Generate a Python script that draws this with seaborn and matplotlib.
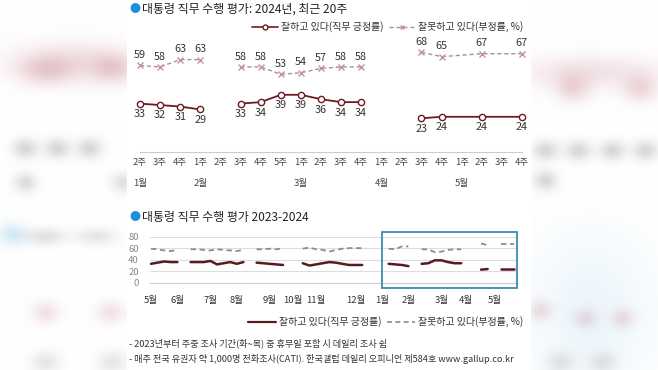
import numpy as np
import pandas as pd
import matplotlib
matplotlib.use('Agg')
import matplotlib.pyplot as plt
import seaborn as sns
from matplotlib.patches import Rectangle
from matplotlib.lines import Line2D

sns.set_theme(style='white')
plt.rcParams['font.family'] = ['Noto Sans CJK KR', 'DejaVu Sans']

# ---------------- data ----------------
week_labels = ['2주', '3주', '4주', '1주', '2주', '3주', '4주', '5주', '1주', '2주',
               '3주', '4주', '1주', '2주', '3주', '4주', '1주', '2주', '3주', '4주']
month_labels_top = ['1월', '2월', '3월', '4월', '5월']
month_idx_top = [0, 3, 8, 12, 16]

positive_2024 = [33, 32, 31, 29, None, 33, 34, 39, 39, 36, 34, 34, None, None, 23, 24, None, 24, None, 24]
negative_2024 = [59, 58, 63, 63, None, 58, 58, 53, 54, 57, 58, 58, None, None, 68, 65, None, 67, None, 67]
top_segments = [(0, 3), (5, 11), (14, 19)]

# 2023 weekly series (week 0 = 2023년 5월 1주), as connected segments
pos_2023_starts = [0, 6, 16, 23]
pos_2023_segs = [
    [33, 35, 37, 36, 36],
    [36, 36, 36, 38, 32, 34, 36, 33, 36],
    [35, 34, 33, 32, 31],
    [34, 30, 32, 34, 36, 35, 33, 31, 31, 31],
]
neg_2023_segs = [
    [59, 58, 56, 55, 57],
    [58, 58, 57, 56, 58, 57, 56, 55, 57],
    [58, 58, 59, 58, 60],
    [59, 61, 58, 57, 54, 57, 59, 60, 60, 60],
]
offset_2024 = 36
bottom_segments_2024 = [(0, 3), (5, 11), (14, 15), (17, 19)]
month_labels_bot = ['5월', '6월', '7월', '8월', '9월', '10월', '11월', '12월', '1월', '2월', '3월', '4월', '5월']
month_pos_bot = [0, 4, 9, 13, 18, 21.5, 25, 31, 35, 39, 44, 47.7, 52]

# ---------------- style ----------------
POS = '#6a1c24'
NEG_LINE = '#a39496'
NEG_MARK = '#c4939a'
TXT = '#333333'

W, H = 658, 370
fig = plt.figure(figsize=(6.58, 3.70), dpi=100)

# blurred background (decorative)
yy, xx = np.mgrid[0:H, 0:W]
bg = np.ones((H, W, 3))
def blob(cx, cy, sx, sy, rgb, s):
    g = s * np.exp(-(((xx - cx) / sx) ** 2 + ((yy - cy) / sy) ** 2) / 2)
    for c in range(3):
        bg[:, :, c] -= g * (1 - rgb[c])
pink = (0.80, 0.55, 0.60)
grey = (0.62, 0.62, 0.62)
blue = (0.80, 0.90, 0.96)
for cx, cy, sx, sy, col, s in [
    (75, 62, 45, 14, pink, 0.3), (45, 70, 18, 10, pink, 0.3), (112, 68, 14, 10, pink, 0.3),
    (25, 148, 9, 7, grey, 0.4), (57, 148, 9, 7, grey, 0.4), (89, 148, 9, 7, grey, 0.4),
    (25, 182, 8, 7, grey, 0.35), (122, 182, 8, 7, grey, 0.3),
    (12, 234, 10, 8, blue, 0.8), (45, 236, 14, 6, grey, 0.3), (96, 236, 14, 6, grey, 0.25),
    (45, 312, 10, 8, pink, 0.25), (110, 312, 10, 8, pink, 0.25),
    (45, 362, 10, 8, grey, 0.25), (112, 362, 10, 8, grey, 0.25),
    (590, 72, 50, 12, pink, 0.25), (572, 88, 12, 10, pink, 0.3), (640, 88, 12, 10, pink, 0.3),
    (545, 150, 9, 7, grey, 0.4), (578, 150, 9, 7, grey, 0.4), (612, 150, 9, 7, grey, 0.4),
    (645, 150, 9, 7, grey, 0.4), (545, 180, 8, 7, grey, 0.4),
    (590, 310, 45, 55, blue, 0.35),
    (540, 310, 8, 7, pink, 0.25), (585, 318, 8, 7, pink, 0.25), (622, 318, 8, 7, pink, 0.25),
    (560, 362, 10, 8, grey, 0.25), (602, 362, 10, 8, grey, 0.25)]:
    blob(cx, cy, sx, sy, col, s)
bg[:, 127:531, :] = 1.0
bg = np.clip(bg, 0, 1)
axbg = fig.add_axes([0, 0, 1, 1], zorder=-10)
axbg.imshow(bg, extent=[0, W, H, 0], aspect='auto', interpolation='bilinear')
axbg.axis('off')

def fx(px):
    return px / W
def fy(py):
    return 1 - py / H

# ---------------- titles ----------------
for ty, title in [(9, '대통령 직무 수행 평가: 2024년, 최근 20주'), (217, '대통령 직무 수행 평가 2023-2024')]:
    fig.text(fx(129), fy(ty), '●', color='#1e8fe0', fontsize=8, va='center', ha='left')
    fig.text(fx(142), fy(ty), title, color='#222222', fontsize=8.6, va='center', ha='left')

# ---------------- top chart ----------------
ax1 = fig.add_axes([fx(140), fy(152), 382 / W, 110 / H])
ax1.patch.set_alpha(0)

def seg_frame(values, segments, offset=0, tag=''):
    rows = []
    for k, (a, b) in enumerate(segments):
        for i in range(a, b + 1):
            if values[i] is not None:
                rows.append({'x': i + offset, 'v': values[i], 'seg': f'{tag}{k}'})
    return pd.DataFrame(rows)

dpos = seg_frame(positive_2024, top_segments)
dneg = seg_frame(negative_2024, top_segments)
sns.lineplot(data=dneg, x='x', y='v', units='seg', estimator=None, ax=ax1, color=NEG_LINE,
             linestyle=(0, (3, 2)), linewidth=1.0, marker='x', markersize=4,
             markeredgecolor=NEG_MARK, markeredgewidth=1.0, clip_on=False)
sns.lineplot(data=dpos, x='x', y='v', units='seg', estimator=None, ax=ax1, color=POS,
             linewidth=1.3, marker='o', markersize=4.5, markerfacecolor='white',
             markeredgecolor=POS, markeredgewidth=1.0, clip_on=False)
for _, r in dneg.iterrows():
    ax1.annotate(f"{r.v:.0f}", (r.x, r.v), xytext=(0, 7.5), textcoords='offset points',
                 ha='center', va='center', fontsize=7.8, color=TXT)
for _, r in dpos.iterrows():
    ax1.annotate(f"{r.v:.0f}", (r.x, r.v), xytext=(0, -7.5), textcoords='offset points',
                 ha='center', va='center', fontsize=7.8, color=TXT)

ax1.set_xlim(0, 19)
ax1.set_ylim(0, 75)
ax1.set_xticks(range(20))
ax1.set_xticklabels(week_labels, fontsize=6.8, color='#444444')
ax1.set_yticks([])
ax1.set_xlabel('')
ax1.set_ylabel('')
for s in ['top', 'left', 'right']:
    ax1.spines[s].set_visible(False)
ax1.spines['bottom'].set_color('#cccccc')
ax1.spines['bottom'].set_linewidth(0.8)
ax1.tick_params(axis='x', length=2, color='#cccccc', pad=4, direction='in')
for lab, i in zip(month_labels_top, month_idx_top):
    ax1.text(i, -21.5, lab, ha='center', va='center', fontsize=6.8, color='#444444')

fig.legend(handles=[
    Line2D([], [], color=POS, lw=1.2, marker='o', markersize=3.5, markerfacecolor='white',
           markeredgecolor=POS),
    Line2D([], [], color=NEG_LINE, lw=1.0, linestyle=(0, (3, 2)), marker='x', markersize=3.5,
           markeredgecolor=NEG_MARK)],
    labels=['잘하고 있다(직무 긍정률)', '잘못하고 있다(부정률, %)'],
    loc='center right', bbox_to_anchor=(fx(528), fy(27)), ncol=2, frameon=False,
    fontsize=7.2, handlelength=2.6, handletextpad=0.3, columnspacing=0.5, borderpad=0,
    labelcolor='#333333')

# ---------------- bottom chart ----------------
ax2 = fig.add_axes([fx(150), fy(283), 367 / W, 46.5 / H])
ax2.patch.set_alpha(0)
rows_p, rows_n = [], []
for k, (st, sp, sn) in enumerate(zip(pos_2023_starts, pos_2023_segs, neg_2023_segs)):
    for j, (vp, vn) in enumerate(zip(sp, sn)):
        rows_p.append({'x': st + j, 'v': vp, 'seg': f'a{k}'})
        rows_n.append({'x': st + j, 'v': vn, 'seg': f'a{k}'})
bpos = pd.concat([pd.DataFrame(rows_p), seg_frame(positive_2024, bottom_segments_2024, offset_2024, 'b')])
bneg = pd.concat([pd.DataFrame(rows_n), seg_frame(negative_2024, bottom_segments_2024, offset_2024, 'b')])
sns.lineplot(data=bneg, x='x', y='v', units='seg', estimator=None, ax=ax2, color='#8c8c8c',
             linestyle=(0, (3, 2)), linewidth=1.3)
sns.lineplot(data=bpos, x='x', y='v', units='seg', estimator=None, ax=ax2, color='#5a1a20',
             linewidth=1.8)
ax2.set_xlim(-0.15, 55.45)
ax2.set_ylim(0, 80)
ax2.set_yticks([0, 20, 40, 60, 80])
ax2.set_yticklabels(['0', '20', '40', '60', '80'], fontsize=6.8, color='#888888')
ax2.yaxis.grid(True, color='#dddddd', linewidth=0.8)
ax2.set_axisbelow(True)
ax2.set_xticks(month_pos_bot)
ax2.set_xticklabels(month_labels_bot, fontsize=6.8, color='#333333')
ax2.set_xticks(np.arange(0, 56), minor=True)
ax2.tick_params(axis='x', which='major', length=0, pad=9)
ax2.tick_params(axis='x', which='minor', length=3, color='#cccccc', direction='in', width=0.7)
ax2.tick_params(axis='y', length=0, pad=8)
ax2.set_xlabel('')
ax2.set_ylabel('')
for s in ['top', 'left', 'right']:
    ax2.spines[s].set_visible(False)
ax2.spines['bottom'].set_color('#cccccc')
ax2.spines['bottom'].set_linewidth(0.8)
ax2.add_patch(Rectangle((35, -9), 55.45 - 35, 96, fill=False, edgecolor='#3a8db3',
                        linewidth=1.3, clip_on=False, zorder=5))

fig.legend(handles=[
    Line2D([], [], color='#5a1a20', lw=1.6),
    Line2D([], [], color='#8c8c8c', lw=1.2, linestyle=(0, (3, 2)))],
    labels=['잘하고 있다(직무 긍정률)', '잘못하고 있다(부정률, %)'],
    loc='center right', bbox_to_anchor=(fx(528), fy(322)), ncol=2, frameon=False,
    fontsize=7.2, handlelength=2.8, handletextpad=0.3, columnspacing=0.5, borderpad=0,
    labelcolor='#333333')

# ---------------- footnotes ----------------
fig.text(fx(129), fy(343), '- 2023년부터 주중 조사 기간(화~목) 중 휴무일 포함 시 데일리 조사 쉼',
         fontsize=6.6, color='#333333', va='center', ha='left')
fig.text(fx(129), fy(359), '- 매주 전국 유권자 약 1,000명 전화조사(CATI). 한국갤럽 데일리 오피니언 제584호 www.gallup.co.kr',
         fontsize=6.6, color='#333333', va='center', ha='left')

fig.savefig('out.png', dpi=100)
